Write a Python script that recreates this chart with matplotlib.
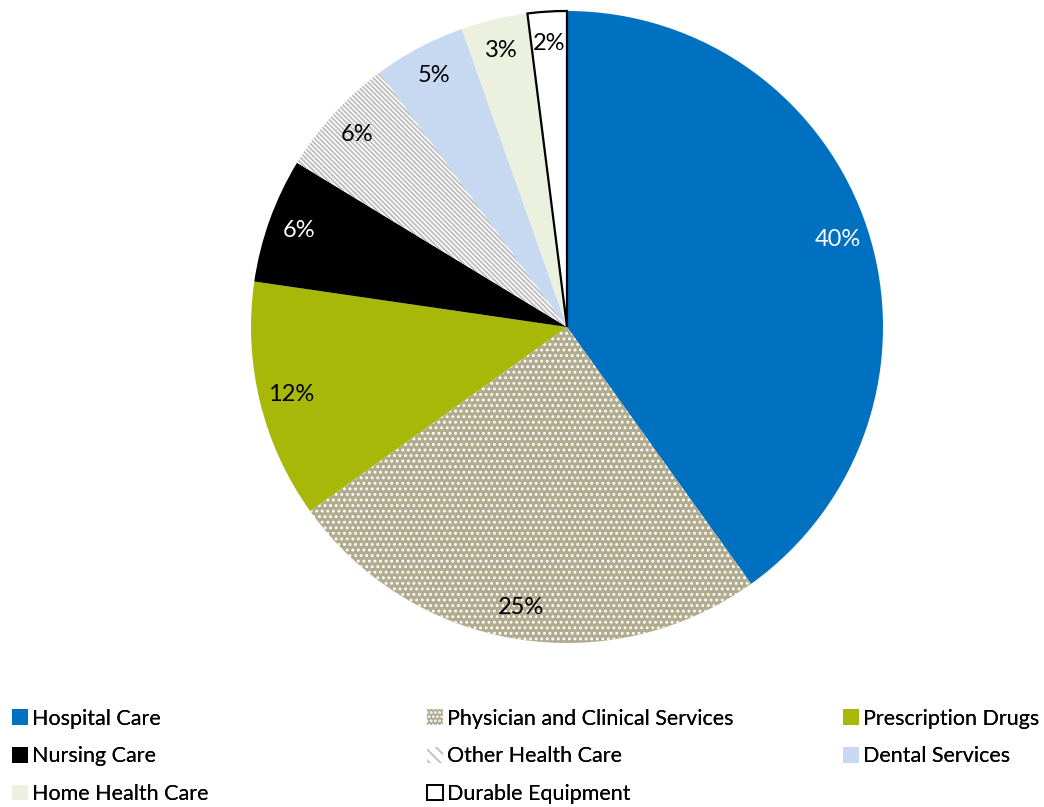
import matplotlib.pyplot as plt
from matplotlib.patches import Patch

plt.rcParams["font.family"] = ["Lato", "DejaVu Sans"]
plt.rcParams["hatch.linewidth"] = 1.3

categories = [
    "Hospital Care",
    "Physician and Clinical Services",
    "Prescription Drugs",
    "Nursing Care",
    "Other Health Care",
    "Dental Services",
    "Home Health Care",
    "Durable Equipment",
]
shares = [40.1, 25.0, 12.2, 6.4, 6.2, 4.7, 3.4, 2.0]

colors = ["#0070C0", "#B1AC8F", "#A8B808", "#000000",
          "#FFFFFF", "#C6D9F1", "#EBF1DE", "#FFFFFF"]
hatches = [None, "...", None, None, "\\" * 7, None, None, None]
hatch_colors = [None, "#FFFFFF", None, None, "#BDBDBD", None, None, None]
text_colors = ["white", "black", "black", "white",
               "black", "black", "black", "black"]

fig = plt.figure(figsize=(10.44, 8.07), dpi=100)
cx, cy, r = 567, 480, 316
ax = fig.add_axes([(cx - r) / 1044, (cy - r) / 807, 2 * r / 1044, 2 * r / 807])

wedges, texts, autotexts = ax.pie(
    shares,
    colors=colors,
    startangle=90,
    counterclock=False,
    autopct="%.0f%%",
    pctdistance=0.9,
    radius=1.0,
    wedgeprops={"linewidth": 0},
    textprops={"fontsize": 17},
)
ax.set_xlim(-1, 1)
ax.set_ylim(-1, 1)
ax.set_aspect("equal")

for w, h, hc in zip(wedges, hatches, hatch_colors):
    if h:
        w.set_hatch(h)
        w.set_edgecolor(hc)
        w.set_linewidth(0)
wedges[-1].set_edgecolor("black")
wedges[-1].set_linewidth(1.6)

for t, c in zip(autotexts, text_colors):
    t.set_color(c)

# legend laid out in three equal-width columns, row by row
handles = []
for i, name in enumerate(categories):
    p = Patch(facecolor=colors[i], label=name)
    if hatches[i]:
        p.set_hatch("\\\\\\" if i == 4 else "....")
        p.set_edgecolor(hatch_colors[i])
        p.set_linewidth(0)
    if i == 7:
        p.set_edgecolor("black")
        p.set_linewidth(1.4)
    handles.append(p)

col_x = [3 / 1044, 418 / 1044, 834 / 1044]
for col in range(3):
    hs = handles[col::3]
    leg = fig.legend(
        handles=hs,
        loc="upper left",
        bbox_to_anchor=(col_x[col], 1 - 700 / 807),
        frameon=False,
        fontsize=15.5,
        handlelength=0.75,
        handleheight=0.75,
        handletextpad=0.2,
        labelspacing=0.82,
        borderaxespad=0,
    )
    fig.add_artist(leg)

fig.savefig("out.png", dpi=100)
